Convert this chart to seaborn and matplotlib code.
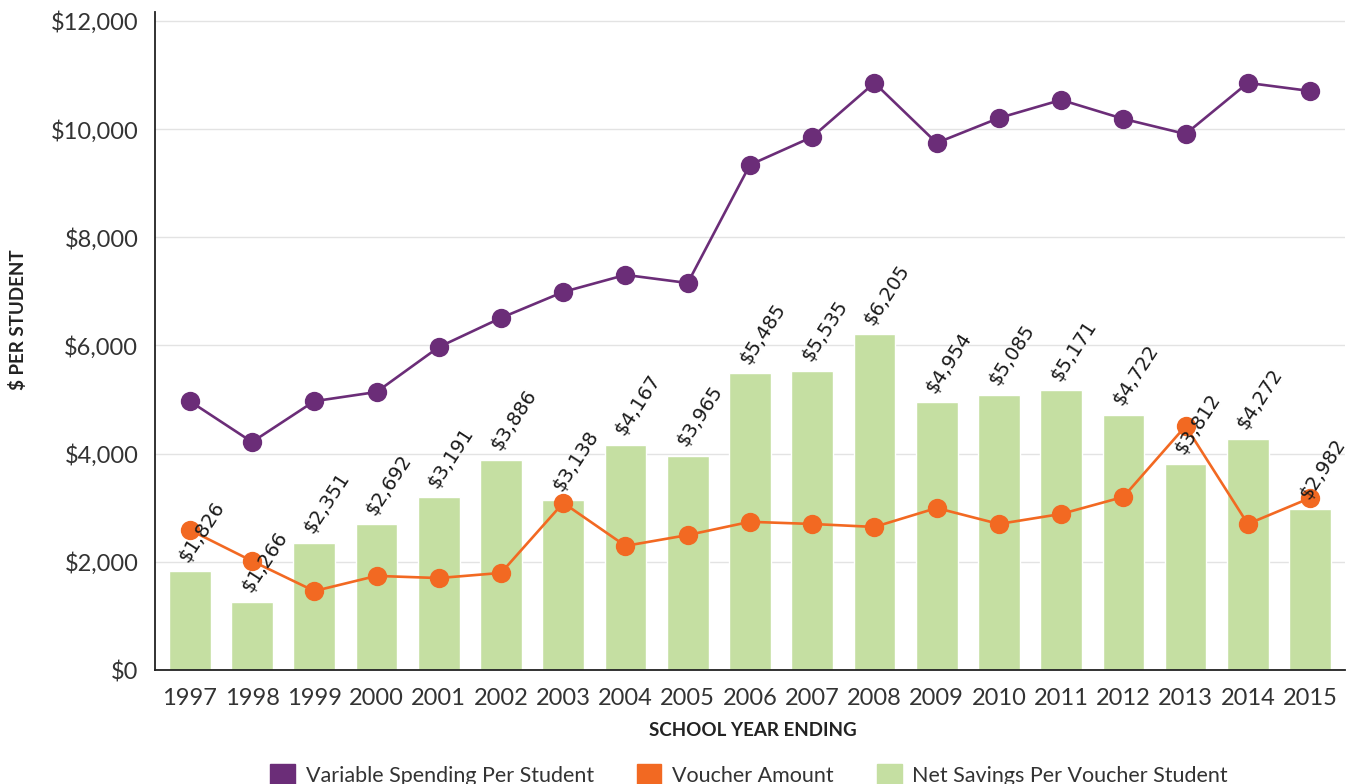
import matplotlib
matplotlib.use("Agg")
import matplotlib.pyplot as plt
from matplotlib.patches import Patch
from matplotlib.ticker import FuncFormatter, MultipleLocator
import seaborn as sns
import pandas as pd

years = ["1997", "1998", "1999", "2000", "2001", "2002", "2003", "2004", "2005", "2006",
         "2007", "2008", "2009", "2010", "2011", "2012", "2013", "2014", "2015"]
variable_spending = [4970, 4215, 4970, 5140, 5970, 6510, 6990, 7305, 7155, 9340,
                     9855, 10855, 9745, 10205, 10540, 10190, 9910, 10855, 10705]
voucher_amount = [2590, 2015, 1460, 1740, 1700, 1795, 3090, 2295, 2495, 2740,
                  2700, 2645, 2995, 2700, 2885, 3200, 4510, 2700, 3180]
net_savings = [1826, 1266, 2351, 2692, 3191, 3886, 3138, 4167, 3965, 5485,
               5535, 6205, 4954, 5085, 5171, 4722, 3812, 4272, 2982]

PURPLE = "#6B2D78"
ORANGE = "#F26922"
GREEN = "#C5DFA2"
TEXT = "#333333"

df = pd.DataFrame({"year": years, "spending": variable_spending,
                   "voucher": voucher_amount, "savings": net_savings})

sns.set_theme(style="white")
plt.rcParams["font.family"] = ["Lato", "DejaVu Sans"]

fig = plt.figure(figsize=(13.57, 7.84), dpi=100)
ax = fig.add_axes([0.1142, 0.1454, 0.8769, 0.8396])

sns.barplot(data=df, x="year", y="savings", color=GREEN, width=0.67,
            saturation=1, ax=ax, zorder=2)
sns.pointplot(data=df, x="year", y="spending", color=PURPLE, markers="o",
              markersize=12.5, linewidth=1.9, ax=ax, zorder=4)
sns.pointplot(data=df, x="year", y="voucher", color=ORANGE, markers="o",
              markersize=12.5, linewidth=1.9, ax=ax, zorder=5)

# rotated value labels above each bar
for i, v in enumerate(net_savings):
    ax.text(i + 0.03, v + 110, f"${v:,}", rotation=57, rotation_mode="anchor",
            ha="left", va="bottom", fontsize=14, color="#1A1A1A",
            family="DejaVu Sans", zorder=6)

ax.set_ylim(0, 12170)
ax.set_xlim(-0.56, 18.56)
ax.yaxis.set_major_locator(MultipleLocator(2000))
ax.yaxis.set_major_formatter(FuncFormatter(lambda v, p: f"${v:,.0f}"))
ax.grid(axis="y", color="#E3E3E3", linewidth=1, zorder=0)
ax.set_axisbelow(True)

for side in ["top", "right"]:
    ax.spines[side].set_visible(False)
for side in ["left", "bottom"]:
    ax.spines[side].set_color("#222222")
    ax.spines[side].set_linewidth(1.3)

ax.tick_params(axis="both", which="both", labelsize=17, labelcolor=TEXT,
               length=7, color="#DDDDDD", width=1, pad=5)
ax.tick_params(axis="x", pad=6)

ax.set_xlabel("")
ax.set_ylabel("")
fig.text(0.5545, 1 - 730 / 784, "SCHOOL YEAR ENDING", ha="center", va="center",
         fontsize=13.5, fontweight="bold", color="#222222")
fig.text(18 / 1357, 1 - 320 / 784, "$ PER STUDENT", ha="center", va="center",
         rotation=90, fontsize=13.5, fontweight="bold", color="#222222")

handles = [Patch(color=PURPLE), Patch(color=ORANGE), Patch(color=GREEN)]
labels = ["Variable Spending Per Student", "Voucher Amount", "Net Savings Per Voucher Student"]
fig.legend(handles, labels, loc="center", bbox_to_anchor=(0.552, 0.012), ncol=3,
           frameon=False, fontsize=15.5, handlelength=1.15, handleheight=1.15,
           handletextpad=0.5, columnspacing=2.0, labelcolor=TEXT)

fig.savefig("out.png", dpi=100)
